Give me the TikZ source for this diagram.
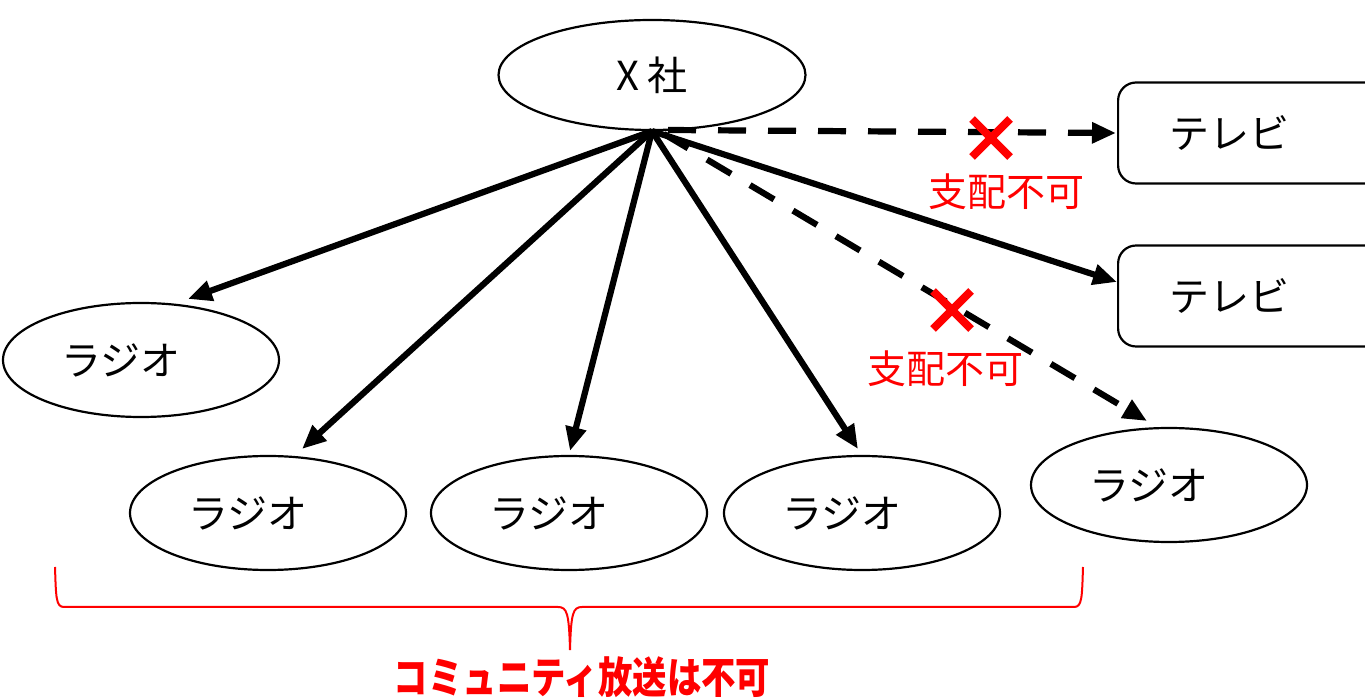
\documentclass[tikz,border=0pt]{standalone}
\usepackage{fontspec}
\setmainfont{Noto Sans CJK JP}
\usetikzlibrary{arrows.meta,shapes.geometric,calc}
\definecolor{rd}{RGB}{255,0,0}
\tikzset{
  lbl/.style={font=\fontsize{20}{20}\selectfont, inner sep=0pt},
  redlbl/.style={font=\fontsize{19.5}{19.5}\selectfont, text=rd, inner sep=0pt},
  xell/.style={ellipse, draw, line width=1.1pt, minimum width=153.5pt, minimum height=55pt, inner sep=0pt, font=\fontsize{20}{20}\selectfont},
  radio/.style={ellipse, draw, line width=1.1pt, minimum width=138pt, minimum height=57pt, inner sep=0pt,
     label={[lbl,xshift=-10pt]center:ラジオ}},
  tvbox/.style={rectangle, draw, line width=1.1pt, rounded corners=9pt, minimum width=150pt, minimum height=50.5pt, inner sep=0pt,
     label={[lbl,xshift=-19.5pt]center:テレビ}},
  arr/.style={line width=3.1pt, -{Triangle[length=12pt,width=10pt]}},
  darr/.style={arr, dash pattern=on 14pt off 11pt},
  redx/.style={line width=4pt, draw=rd},
  bracestyle/.style={draw=rd, line width=1pt}
}
\begin{document}
\begin{tikzpicture}[x=0.5pt,y=-0.5pt]
\useasboundingbox (0,0) rectangle (1365,699);
% nodes
\node[xell] (x) at (652,75) {X 社};
\node[tvbox, anchor=west] (tv1) at (1117,133) {};
\node[tvbox, anchor=west] (tv2) at (1117,296) {};
\node[radio] (r1) at (141,360) {};
\node[radio] (r2) at (268,513) {};
\node[radio] (r3) at (569,513) {};
\node[radio] (r4) at (862,513) {};
\node[radio] (r5) at (1169,485) {};
% arrow tip coordinates
\coordinate (t1) at (188,299);
\coordinate (t2) at (302,449);
\coordinate (t3) at (570,451);
\coordinate (t4) at (858,449);
\coordinate (t5) at (1117,282);
\coordinate (t6) at (1116,133);
\coordinate (t7) at (1147,421);
\coordinate (d6) at (668,130);
\coordinate (d7) at (664,134);
% solid arrows
\draw[arr] (x.south) -- (t1);
\draw[arr] (x.south) -- (t2);
\draw[arr] (x.south) -- (t3);
\draw[arr] (x.south) -- (t4);
\draw[arr] (x.south) -- (t5);
% dashed arrows
\draw[darr] (d6) -- (t6);
\draw[darr] (d7) -- (t7);
% red crosses
\coordinate (c1) at (991,138);
\coordinate (c2) at (952,310);
\draw[redx] ($(c1)+(-19,-19)$) -- ($(c1)+(19,19)$);
\draw[redx] ($(c1)+(-19,19)$) -- ($(c1)+(19,-19)$);
\draw[redx] ($(c2)+(-19,-19)$) -- ($(c2)+(19,19)$);
\draw[redx] ($(c2)+(-19,19)$) -- ($(c2)+(19,-19)$);
\node[redlbl] (l1) at (1006,192) {支配不可};
\node[redlbl] (l2) at (945,369) {支配不可};
% brace
\draw[bracestyle] (55,567) .. controls (56,598) and (56,607) .. (64,607) -- (558,607)
  .. controls (567,607) and (569,613) .. (570,650)
  .. controls (571,613) and (573,607) .. (582,607) -- (1074,607)
  .. controls (1082,607) and (1082,598) .. (1083,567);
\node[inner sep=0pt, text=rd, font=\fontsize{21.5}{21.5}\selectfont\bfseries] (bt) at (582,677) {\scalebox{0.8}[1]{コミュニティ放送は不可}};
\end{tikzpicture}
\end{document}
